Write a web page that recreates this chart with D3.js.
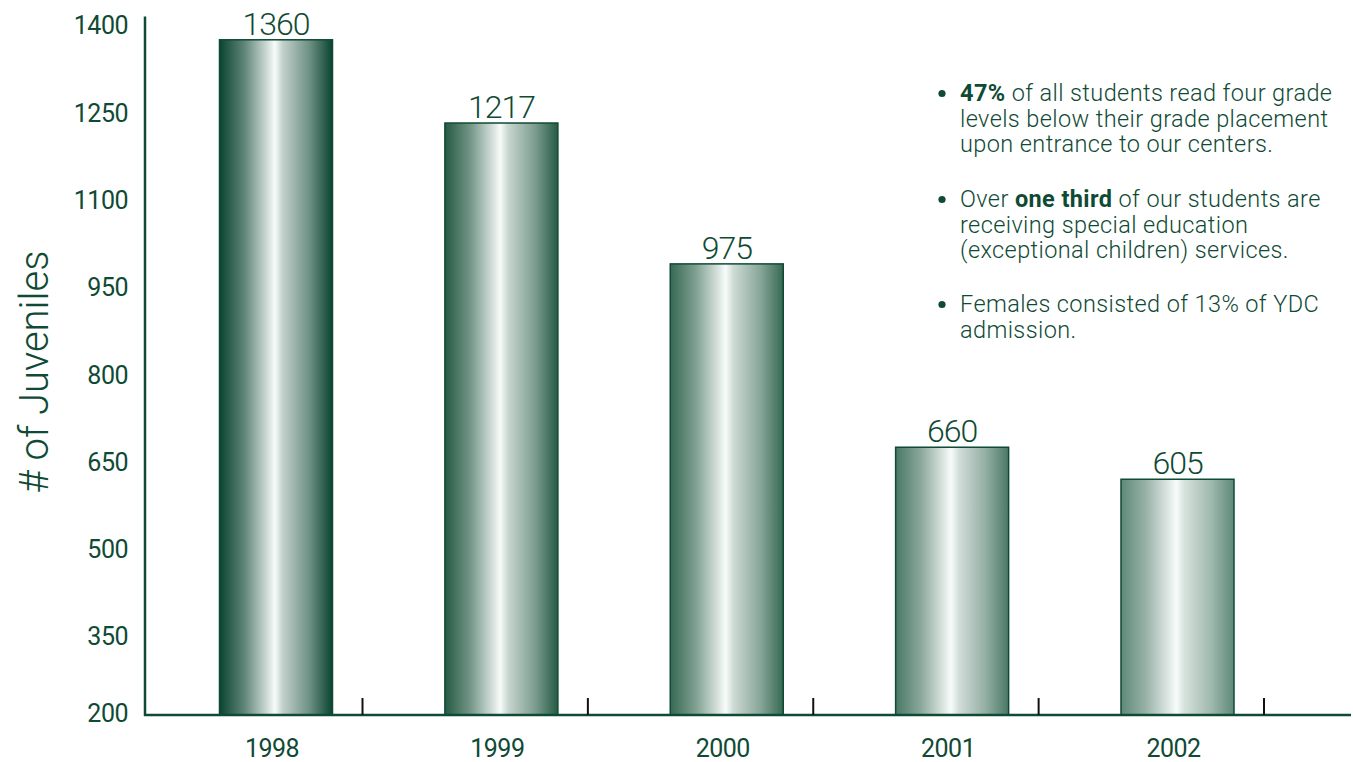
<!DOCTYPE html>
<html>
<head>
<meta charset="utf-8">
<script src="https://cdn.jsdelivr.net/npm/d3@7"></script>
<style>
  html, body { margin: 0; padding: 0; background: #ffffff; }
  svg { display: block; }
</style>
</head>
<body>
<svg id="chart" width="1353" height="762"></svg>
<script>
// ---- data ----
const years = ["1998", "1999", "2000", "2001", "2002"];
const juveniles = [1360, 1217, 975, 660, 605];
const yTicks = [200, 350, 500, 650, 800, 950, 1100, 1250, 1400];
const yTitle = "# of Juveniles";
const notes = [
  [[{t: "47%", b: true}, {t: " of all students read four grade"}],
   [{t: "levels below their grade placement"}],
   [{t: "upon entrance to our centers."}]],
  [[{t: "Over "}, {t: "one third", b: true}, {t: " of our students are"}],
   [{t: "receiving special education"}],
   [{t: "(exceptional children) services."}]],
  [[{t: "Females consisted of 13% of YDC"}],
   [{t: "admission."}]]
];
// per-bar edge shades (style)
const edgeShades = ["#0a4430", "#245a44", "#376953", "#4a7865", "#5f8978"];

const ink = "#0f4a35";
const font = "Roboto, 'Noto Sans', sans-serif";

const svg = d3.select("#chart");
const x = d3.scalePoint().domain(years).range([276, 1177.5]);
const y = d3.scaleLinear().domain([200, 1400]).range([715, 16.5]);
const barW = 113;

// gradients
const defs = svg.append("defs");
edgeShades.forEach((c, i) => {
  const g = defs.append("linearGradient").attr("id", "g" + i)
    .attr("x1", "0").attr("x2", "1").attr("y1", "0").attr("y2", "0");
  const mid = d3.interpolateRgb(c, "#ffffff");
  g.append("stop").attr("offset", "0").attr("stop-color", c);
  g.append("stop").attr("offset", "0.22").attr("stop-color", mid(0.35));
  g.append("stop").attr("offset", "0.42").attr("stop-color", mid(0.8));
  g.append("stop").attr("offset", "0.49").attr("stop-color", "#f7fcfa");
  g.append("stop").attr("offset", "0.56").attr("stop-color", mid(0.75));
  g.append("stop").attr("offset", "0.8").attr("stop-color", mid(0.4));
  g.append("stop").attr("offset", "1").attr("stop-color", c);
});

// bars
svg.append("g").selectAll("rect").data(juveniles).join("rect")
  .attr("x", (d, i) => x(years[i]) - barW / 2)
  .attr("y", d => y(d))
  .attr("width", barW)
  .attr("height", d => y(200) - y(d))
  .attr("fill", (d, i) => `url(#g${i})`)
  .attr("stroke", ink)
  .attr("stroke-width", 1.5);

// value labels
svg.append("g").selectAll("text").data(juveniles).join("text")
  .attr("x", (d, i) => x(years[i]))
  .attr("y", d => y(d) - 5)
  .attr("text-anchor", "middle")
  .attr("font-family", font)
  .attr("font-weight", 300)
  .attr("font-size", 32)
  .attr("letter-spacing", -1)
  .attr("fill", ink)
  .text(d => d);

// axes lines
svg.append("line").attr("x1", 145).attr("x2", 145)
  .attr("y1", y(1400)).attr("y2", y(200) + 1)
  .attr("stroke", ink).attr("stroke-width", 2.5);
svg.append("line").attr("x1", 144).attr("x2", 1351)
  .attr("y1", y(200)).attr("y2", y(200))
  .attr("stroke", ink).attr("stroke-width", 2.5);

// separator ticks
svg.append("g").selectAll("line").data(years).join("line")
  .attr("x1", d => x(d) + 86.5).attr("x2", d => x(d) + 86.5)
  .attr("y1", y(200) - 17).attr("y2", y(200))
  .attr("stroke", "#111").attr("stroke-width", 2);

// y tick labels
svg.append("g").selectAll("text").data(yTicks).join("text")
  .attr("x", 128)
  .attr("y", d => Math.min(y(d) + 9, 713))
  .attr("dy", "0.35em")
  .attr("text-anchor", "end")
  .attr("font-family", font)
  .attr("font-size", 25)
  .attr("letter-spacing", -0.5)
  .attr("fill", ink)
  .text(d => d);

// x labels
svg.append("g").selectAll("text").data(years).join("text")
  .attr("x", d => x(d) - 4)
  .attr("y", 757)
  .attr("text-anchor", "middle")
  .attr("font-family", font)
  .attr("font-size", 25)
  .attr("letter-spacing", -0.5)
  .attr("fill", ink)
  .text(d => d);

// y title
svg.append("text")
  .attr("transform", "translate(48,372) rotate(-90)")
  .attr("text-anchor", "middle")
  .attr("font-family", font)
  .attr("font-size", 40)
  .attr("font-weight", 300)
  .attr("fill", ink)
  .text(yTitle);

// notes
const paraTop = [101, 207, 312];
const lineH = 25.5;
const ng = svg.append("g");
notes.forEach((para, pi) => {
  ng.append("circle").attr("cx", 942).attr("cy", paraTop[pi] - 7.5).attr("r", 3.6).attr("fill", ink);
  para.forEach((line, li) => {
    const t = ng.append("text")
      .attr("x", 960).attr("y", paraTop[pi] + li * lineH)
      .attr("font-family", font).attr("font-size", 23.5)
      .attr("letter-spacing", 0.4)
      .attr("font-weight", 300)
      .attr("fill", ink);
    line.forEach(seg => {
      t.append("tspan").attr("font-weight", seg.b ? 700 : 300).text(seg.t);
    });
  });
});
</script>
</body>
</html>
